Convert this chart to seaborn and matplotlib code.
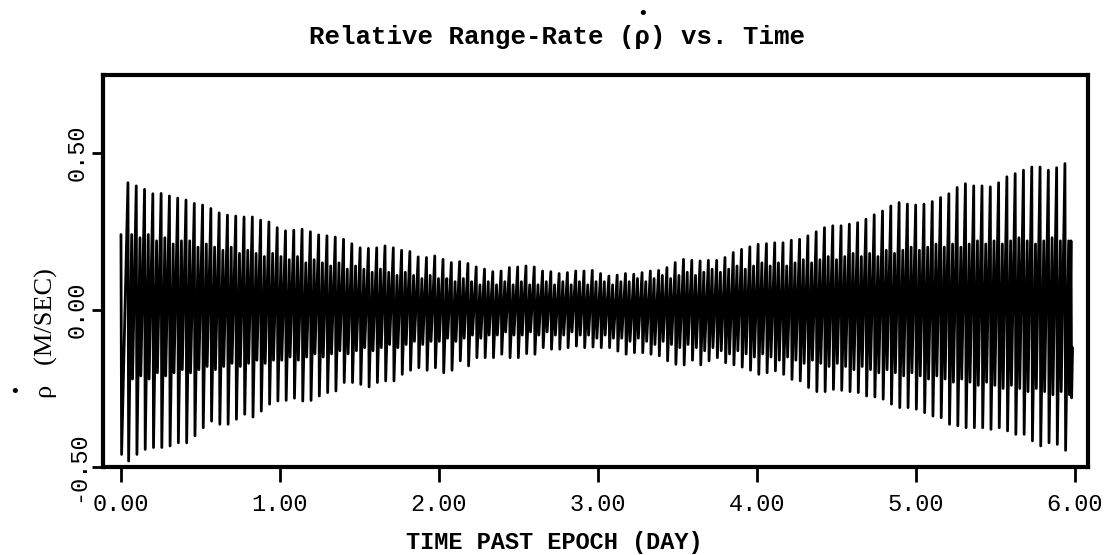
import numpy as np
import pandas as pd
import matplotlib
matplotlib.use("Agg")
import matplotlib.pyplot as plt
import seaborn as sns

# ---- data: one entry per orbital cycle (peak / trough of the large swing,
# ---- and of the smaller swing in between), days past epoch
first_cycle_day = 0.044
cycle_period_day = 0.05215

peak_hi = [
    0.405, 0.395, 0.384, 0.370, 0.371, 0.363, 0.356, 0.350, 0.339, 0.334,
    0.323, 0.309, 0.302, 0.299, 0.296, 0.296, 0.286, 0.280,
    0.262, 0.252, 0.254, 0.257, 0.249, 0.239, 0.236, 0.232, 0.225, 0.211,
    0.198, 0.196, 0.198, 0.204, 0.198, 0.190, 0.186, 0.169, 0.167, 0.172,
    0.161, 0.151, 0.154, 0.148, 0.137, 0.130, 0.122, 0.124, 0.135, 0.137,
    0.140, 0.137, 0.124, 0.122, 0.116, 0.119, 0.124, 0.124, 0.126, 0.116,
    0.108, 0.111, 0.116, 0.114, 0.119, 0.124, 0.126, 0.135, 0.151, 0.161,
    0.158, 0.156, 0.158, 0.158, 0.167, 0.183, 0.193, 0.201, 0.209, 0.211,
    0.214, 0.214, 0.222, 0.225, 0.236, 0.249, 0.262, 0.268, 0.268, 0.273,
    0.278, 0.289, 0.303, 0.315, 0.331, 0.342, 0.337, 0.334, 0.337, 0.345,
    0.358, 0.370, 0.390, 0.402, 0.395, 0.395, 0.392, 0.405, 0.424, 0.434,
    0.445, 0.455, 0.455, 0.445, 0.453, 0.466,
]
peak_lo = [
    -0.481, -0.460, -0.444, -0.438, -0.438, -0.433, -0.423, -0.423, -0.401, -0.375,
    -0.354, -0.364, -0.364, -0.348, -0.332, -0.341, -0.322, -0.300,
    -0.290, -0.288, -0.281, -0.290, -0.288, -0.274, -0.263, -0.258, -0.231, -0.231,
    -0.237, -0.245, -0.231, -0.226, -0.226, -0.205, -0.192, -0.184, -0.192, -0.184,
    -0.200, -0.192, -0.162, -0.178, -0.152, -0.152, -0.152, -0.141, -0.152, -0.152,
    -0.139, -0.141, -0.120, -0.125, -0.125, -0.120, -0.115, -0.120, -0.118, -0.120,
    -0.120, -0.131, -0.141, -0.136, -0.136, -0.141, -0.146, -0.162, -0.173, -0.175,
    -0.160, -0.175, -0.162, -0.152, -0.168, -0.175, -0.182, -0.192, -0.205, -0.200,
    -0.194, -0.205, -0.221, -0.226, -0.247, -0.260, -0.260, -0.253, -0.256, -0.260,
    -0.263, -0.274, -0.277, -0.284, -0.300, -0.311, -0.311, -0.316, -0.327, -0.338,
    -0.343, -0.364, -0.369, -0.375, -0.375, -0.375, -0.380, -0.375, -0.385, -0.396,
    -0.396, -0.417, -0.433, -0.423, -0.428, -0.447,
]
inner_hi = [
    0.24, 0.23, 0.24, 0.22, 0.23, 0.21, 0.22, 0.22, 0.20, 0.21,
    0.20, 0.19, 0.20, 0.18, 0.19, 0.18, 0.17, 0.18,
    0.17, 0.16, 0.17, 0.15, 0.16, 0.15, 0.14, 0.15, 0.13, 0.14,
    0.13, 0.12, 0.13, 0.12, 0.11, 0.12, 0.11, 0.10, 0.11, 0.10,
    0.10, 0.09, 0.10, 0.09, 0.08, 0.09, 0.08, 0.09, 0.08, 0.09,
    0.08, 0.08, 0.09, 0.08, 0.09, 0.08, 0.09, 0.08, 0.09, 0.09,
    0.08, 0.09, 0.09, 0.10, 0.09, 0.10, 0.11, 0.10, 0.11, 0.12,
    0.11, 0.12, 0.13, 0.12, 0.13, 0.14, 0.13, 0.14, 0.15, 0.14,
    0.15, 0.14, 0.15, 0.16, 0.15, 0.16, 0.17, 0.16, 0.17, 0.18,
    0.17, 0.18, 0.17, 0.19, 0.18, 0.19, 0.20, 0.19, 0.20, 0.21,
    0.20, 0.21, 0.20, 0.21, 0.22, 0.21, 0.22, 0.21, 0.22, 0.23,
    0.22, 0.21, 0.22, 0.23, 0.22, 0.22,
]
inner_lo = [
    -0.22, -0.21, -0.22, -0.20, -0.21, -0.20, -0.19, -0.20, -0.19, -0.18,
    -0.19, -0.18, -0.17, -0.18, -0.17, -0.16, -0.17, -0.16,
    -0.16, -0.15, -0.16, -0.15, -0.14, -0.15, -0.14, -0.13, -0.14, -0.13,
    -0.12, -0.13, -0.12, -0.11, -0.12, -0.11, -0.10, -0.11, -0.10, -0.10,
    -0.09, -0.10, -0.09, -0.08, -0.09, -0.08, -0.08, -0.07, -0.08, -0.08,
    -0.07, -0.08, -0.07, -0.08, -0.08, -0.07, -0.08, -0.08, -0.09, -0.08,
    -0.09, -0.09, -0.10, -0.09, -0.10, -0.11, -0.10, -0.11, -0.12, -0.11,
    -0.12, -0.13, -0.12, -0.13, -0.14, -0.13, -0.14, -0.15, -0.14, -0.15,
    -0.16, -0.15, -0.16, -0.17, -0.16, -0.17, -0.18, -0.17, -0.18, -0.19,
    -0.18, -0.19, -0.20, -0.19, -0.20, -0.21, -0.20, -0.21, -0.22, -0.21,
    -0.22, -0.23, -0.22, -0.23, -0.24, -0.23, -0.24, -0.25, -0.24, -0.25,
    -0.26, -0.25, -0.26, -0.27, -0.26, -0.27,
]

# partial swings before the first and after the last full cycle
lead_day = [0.0, 0.004]
lead_rate = [0.24, -0.46]
tail_day = [5.975, 5.979, 5.985]
tail_rate = [0.22, -0.28, -0.12]

x_ticks = [0, 1, 2, 3, 4, 5, 6]
x_tick_labels = ["0.00", "1.00", "2.00", "3.00", "4.00", "5.00", "6.00"]
y_ticks = [-0.5, 0.0, 0.5]
y_tick_labels = ["-0.50", "0.00", "0.50"]

# ---- build the sampled series: within each cycle the trace runs
# ---- peak -> trough -> inner peak -> inner trough
phase = np.array([0.0, 0.08, 0.45, 0.55])
n = len(peak_hi)
cycle_day = first_cycle_day + cycle_period_day * np.arange(n)
day = (cycle_day[:, None] + cycle_period_day * phase[None, :]).ravel()
rate = np.column_stack([peak_hi, peak_lo, inner_hi, inner_lo]).ravel()
df = pd.DataFrame({
    "day": np.concatenate([lead_day, day, tail_day]),
    "rate": np.concatenate([lead_rate, rate, tail_rate]),
})

sns.set_theme(style="white")
mono = ["Liberation Mono", "DejaVu Sans Mono"]
serif = ["Liberation Serif", "DejaVu Serif"]
plt.rcParams["font.family"] = mono

W, H = 1114, 555
fig = plt.figure(figsize=(W / 100, H / 100), dpi=100)
fig.patch.set_facecolor("white")
ax = fig.add_axes([103 / W, 1 - 467 / H, (1088 - 103) / W, (467 - 75) / H])
ax.set_facecolor("white")

sns.lineplot(data=df, x="day", y="rate", sort=False, estimator=None,
             color="black", linewidth=2.0, ax=ax)

ax.set_xlim(-0.113, 6.082)
ax.set_ylim(-0.5, 0.748)
ax.set_xlabel("")
ax.set_ylabel("")

for s in ax.spines.values():
    s.set_visible(True)
    s.set_linewidth(3.0)
    s.set_color("black")

ax.set_xticks(x_ticks)
ax.set_xticklabels(x_tick_labels, fontsize=17, family=mono)
ax.set_yticks(y_ticks)
ax.set_yticklabels(y_tick_labels, fontsize=17, family=mono,
                   rotation=90, va="center")
ax.tick_params(axis="x", direction="out", length=11, width=2,
               pad=8, colors="black", bottom=True)
ax.tick_params(axis="y", direction="out", length=8, width=2,
               pad=2, colors="black", left=True)

# title with a dot over rho
title = fig.text(0.5, 1 - 44 / H, "Relative Range-Rate (\u03c1) vs. Time",
                 ha="center", va="baseline", fontsize=18.5,
                 fontweight="bold", family=mono, color="black")
fig.canvas.draw()
bb = title.get_window_extent()
n_chars = len(title.get_text())
rho_x = bb.x0 + bb.width * (21.5 / n_chars)
fig.text(rho_x / W, 1 - 14 / H, "\u2022", ha="center", va="center",
         fontsize=13, color="black", family=["DejaVu Sans"])

# axis titles
fig.text(46 / W, 1 - 333 / H, "\u03c1   (M/SEC)", rotation=90,
         ha="center", va="center", fontsize=19, family=serif, color="black")
fig.text(15 / W, 1 - 392 / H, "\u2022", ha="center", va="center",
         fontsize=13, color="black", family=["DejaVu Sans"])
fig.text(554 / W, 1 - 549 / H, "TIME PAST EPOCH (DAY)", ha="center",
         va="baseline", fontsize=17, fontweight="bold", family=mono,
         color="black")

fig.savefig("out.png", dpi=100, facecolor="white")
